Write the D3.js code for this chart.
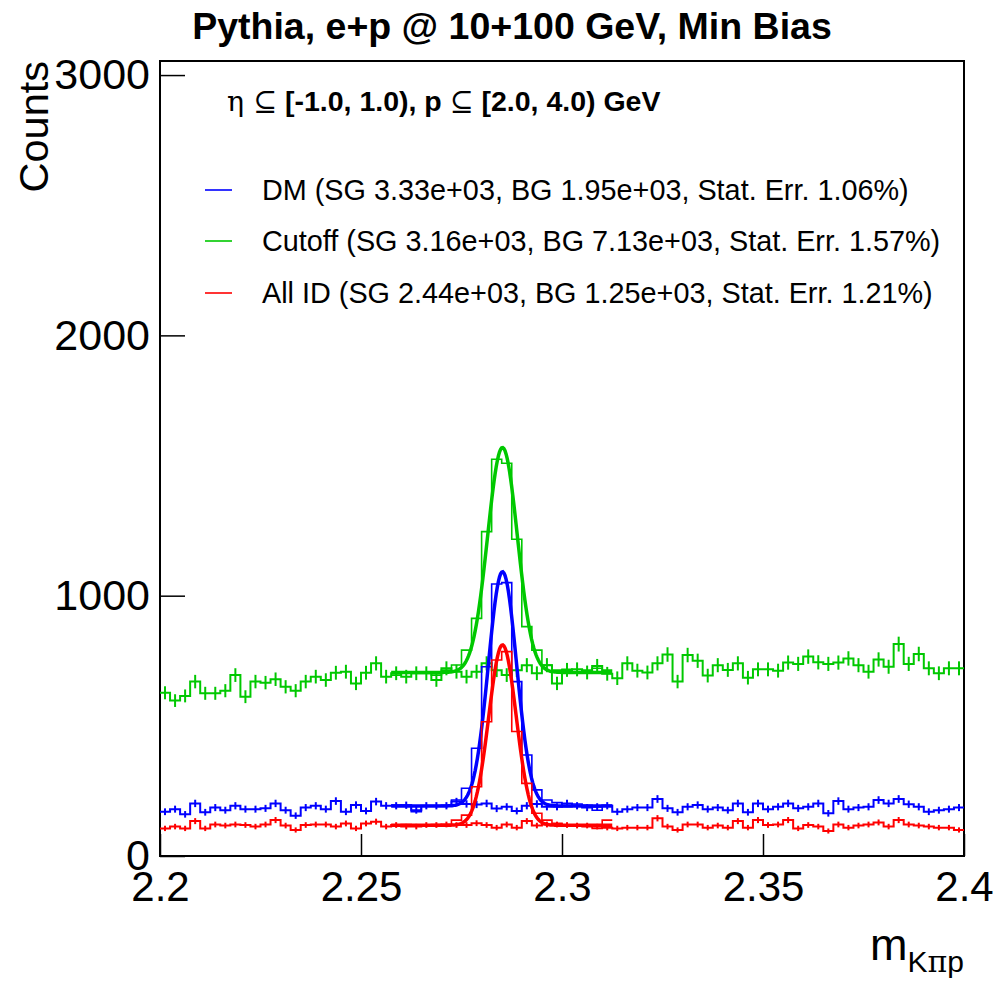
<!DOCTYPE html>
<html>
<head>
<meta charset="utf-8">
<script src="https://cdn.jsdelivr.net/npm/d3@7"></script>
<style>
  body { margin: 0; background: #fff; }
  svg text { font-family: "Liberation Sans", Arial, Helvetica, sans-serif; }
</style>
</head>
<body>
<svg id="chart" width="993" height="982"></svg>
<script>
// binning of the mass histograms
var binStart = 2.2, binWidth = 0.0025;

// full range histograms (drawn with error bars), 80 bins 2.2 - 2.4
var cutoffBins = [627, 597, 615, 670, 625, 625, 635, 695, 612, 670, 666, 679, 650, 635, 670, 689, 676, 704, 708, 663,
  704, 740, 689, 702, 689, 702, 702, 676, 721, 708, 689, 708, 740, 714, 695, 714, 733, 702, 733, 663,
  715, 717, 705, 730, 700, 683, 740, 712, 705, 740, 774, 670, 772, 750, 693, 733, 715, 740, 685, 717,
  717, 712, 743, 738, 766, 744, 738, 743, 759, 733, 708, 755, 727, 814, 738, 776, 721, 702, 721, 721];
var dmBins = [170, 180, 160, 202, 168, 186, 176, 193, 180, 180, 183, 202, 176, 155, 186, 193, 180, 211, 170, 196,
  173, 209, 193, 193, 195, 176, 193, 193, 193, 209, 200, 198, 202, 182, 189, 173, 193, 200, 189, 189,
  202, 193, 186, 189, 193, 170, 180, 186, 186, 219, 183, 168, 189, 196, 180, 186, 176, 202, 168, 202,
  180, 189, 202, 183, 189, 202, 164, 211, 180, 186, 189, 215, 202, 219, 199, 189, 170, 176, 180, 186];
var allIdBins = [106, 113, 106, 134, 106, 121, 117, 121, 119, 113, 121, 138, 117, 100, 119, 121, 121, 113, 125, 106,
  125, 132, 113, 119, 113, 113, 119, 119, 121, 119, 119, 126, 119, 109, 121, 109, 134, 117, 121, 121,
  119, 117, 117, 113, 109, 106, 109, 109, 109, 145, 113, 100, 121, 121, 109, 117, 109, 134, 109, 138,
  119, 121, 138, 106, 119, 113, 96, 121, 109, 117, 121, 129, 113, 138, 121, 117, 113, 109, 109, 100];

// fit-window histograms, bins 23 - 44
var peakFirstBin = 23;
var cutoffPeak = [695, 702, 708, 702, 695, 714, 734, 791, 913, 1246, 1524, 1509, 1217, 881, 791, 734, 714, 717, 708, 714, 721, 714];
var dmPeak = [196, 195, 170, 193, 193, 195, 215, 260, 414, 727, 1045, 1050, 670, 388, 254, 215, 205, 189, 200, 195, 176, 195];
var allIdPeak = [119, 121, 117, 119, 121, 119, 138, 157, 266, 516, 753, 785, 478, 279, 164, 138, 126, 119, 119, 113, 106, 138];

// gaus + const fit parameters: [constant, amplitude, mean, sigma]
var fitRange = [2.2575, 2.3125];
var cutoffFit = [705, 864, 2.2852, 0.0037];
var dmFit = [192, 900, 2.2852, 0.0035];
var allIdFit = [118, 693, 2.2852, 0.0034];

var legendLabels = [
  "DM (SG 3.33e+03, BG 1.95e+03, Stat. Err. 1.06%)",
  "Cutoff (SG 3.16e+03, BG 7.13e+03, Stat. Err. 1.57%)",
  "All ID (SG 2.44e+03, BG 1.25e+03, Stat. Err. 1.21%)"
];

var xTickValues = [2.2, 2.25, 2.3, 2.35, 2.4];
var xTickLabels = ["2.2", "2.25", "2.3", "2.35", "2.4"];
var yTickValues = [0, 1000, 2000, 3000];
var yTickLabels = ["0", "1000", "2000", "3000"];

var blue = "#0000ff", green = "#00c800", red = "#ff0000";

var svg = d3.select("#chart");
var frame = {left: 160, right: 964, top: 61, bottom: 856};

var x = d3.scaleLinear().domain([2.2, 2.4]).range([frame.left, frame.right]);
var y = d3.scaleLinear().domain([0, 3054]).range([frame.bottom, frame.top]);

// title
svg.append("text")
  .attr("x", 512).attr("y", 39)
  .attr("text-anchor", "middle")
  .style("font-weight", "bold").style("font-size", "37.5px")
  .text("Pythia, e+p @ 10+100 GeV, Min Bias");

// axes
var gy = svg.append("g").attr("transform", "translate(" + frame.left + ",0)");
gy.call(d3.axisLeft(y).tickValues(d3.range(0, 3001, 200)).tickSize(-12.5).tickFormat(""));
gy.call(d3.axisLeft(y).tickValues(yTickValues).tickSize(-25).tickPadding(10)
  .tickFormat(function(d, i){ return yTickLabels[i]; }));
gy.selectAll(".domain").remove();
gy.selectAll("text").style("font-size", "43px").attr("dy", "0.32em")
  .style("font-family", "'Liberation Sans', Arial, sans-serif");

var gx = svg.append("g").attr("transform", "translate(0," + frame.bottom + ")");
gx.call(d3.axisBottom(x).tickValues(d3.range(0, 21).map(function(i){ return 2.2 + i*0.01; }))
  .tickSize(-11).tickFormat(""));
gx.call(d3.axisBottom(x).tickValues(xTickValues).tickSize(-22).tickPadding(15)
  .tickFormat(function(d, i){ return xTickLabels[i]; }));
gx.selectAll(".domain").remove();
gx.selectAll("text").style("font-size", "42px")
  .style("font-family", "'Liberation Sans', Arial, sans-serif");
svg.selectAll(".tick line").attr("stroke", "#000").attr("stroke-width", 1.5);

svg.append("rect")
  .attr("x", frame.left).attr("y", frame.top)
  .attr("width", frame.right - frame.left).attr("height", frame.bottom - frame.top)
  .attr("fill", "none").attr("stroke", "#000").attr("stroke-width", 2);

// axis titles
svg.append("text")
  .attr("transform", "translate(48," + frame.top + ") rotate(-90)")
  .attr("text-anchor", "end")
  .style("font-size", "41.5px")
  .text("Counts");

var xt = svg.append("text")
  .attr("x", frame.right).attr("y", 960)
  .attr("text-anchor", "end")
  .style("font-size", "45px");
xt.append("tspan").text("m");
xt.append("tspan").attr("dy", 12).style("font-size", "30px").text("K");
xt.append("tspan").style("font-size", "30px").style("font-family", "'DejaVu Serif', serif").text("\u03c0");
xt.append("tspan").style("font-size", "30px").text("p");

// histogram helpers
var step = d3.line().x(function(d){ return x(d[0]); }).y(function(d){ return y(d[1]); }).curve(d3.curveStepAfter);

function stepPoints(bins, first){
  var pts = bins.map(function(v, i){ return [binStart + (first + i)*binWidth, v]; });
  pts.push([binStart + (first + bins.length)*binWidth, bins[bins.length - 1]]);
  return pts;
}

function drawFull(bins, color){
  var g = svg.append("g");
  g.append("path").attr("d", step(stepPoints(bins, 0)))
    .attr("fill", "none").attr("stroke", color).attr("stroke-width", 2);
  g.selectAll("line").data(bins).enter().append("line")
    .attr("x1", function(d, i){ return x(binStart + (i + 0.5)*binWidth); })
    .attr("x2", function(d, i){ return x(binStart + (i + 0.5)*binWidth); })
    .attr("y1", function(d){ return y(d - Math.sqrt(d)); })
    .attr("y2", function(d){ return y(d + Math.sqrt(d)); })
    .attr("stroke", color).attr("stroke-width", 2);
}

function drawPeak(bins, fit, color){
  svg.append("path").attr("d", step(stepPoints(bins, peakFirstBin)))
    .attr("fill", "none").attr("stroke", color).attr("stroke-width", 1.6);
  var xs = d3.range(0, 201).map(function(i){ return fitRange[0] + (fitRange[1] - fitRange[0])*i/200; });
  var curve = xs.map(function(m){
    var z = (m - fit[2]) / fit[3];
    return [m, fit[0] + fit[1]*Math.exp(-0.5*z*z)];
  });
  svg.append("path")
    .attr("d", d3.line().x(function(d){ return x(d[0]); }).y(function(d){ return y(d[1]); })(curve))
    .attr("fill", "none").attr("stroke", color).attr("stroke-width", 3.5);
}

drawFull(cutoffBins, green);
drawFull(dmBins, blue);
drawFull(allIdBins, red);
drawPeak(cutoffPeak, cutoffFit, green);
drawPeak(dmPeak, dmFit, blue);
drawPeak(allIdPeak, allIdFit, red);

// legend
var head = svg.append("text").attr("x", 227).attr("y", 111)
  .style("font-size", "28.5px").style("font-weight", "bold");
head.append("tspan").style("font-family", "'DejaVu Serif', serif").style("font-weight", "normal").text("\u03b7 ");
head.append("tspan").style("font-family", "'DejaVu Serif', serif").style("font-weight", "normal").text("\u2286");
head.append("tspan").text(" [-1.0, 1.0), p ");
head.append("tspan").style("font-family", "'DejaVu Serif', serif").style("font-weight", "normal").text("\u2286");
head.append("tspan").text(" [2.0, 4.0) GeV");

var legendColors = [blue, green, red];
var legendY = [190, 241, 293];
legendLabels.forEach(function(label, i){
  svg.append("line")
    .attr("x1", 205).attr("x2", 232).attr("y1", legendY[i]).attr("y2", legendY[i])
    .attr("stroke", legendColors[i]).attr("stroke-width", 1.6);
  svg.append("text")
    .attr("x", 262).attr("y", legendY[i] + 10)
    .style("font-size", "28.8px")
    .text(label);
});
</script>
</body>
</html>
